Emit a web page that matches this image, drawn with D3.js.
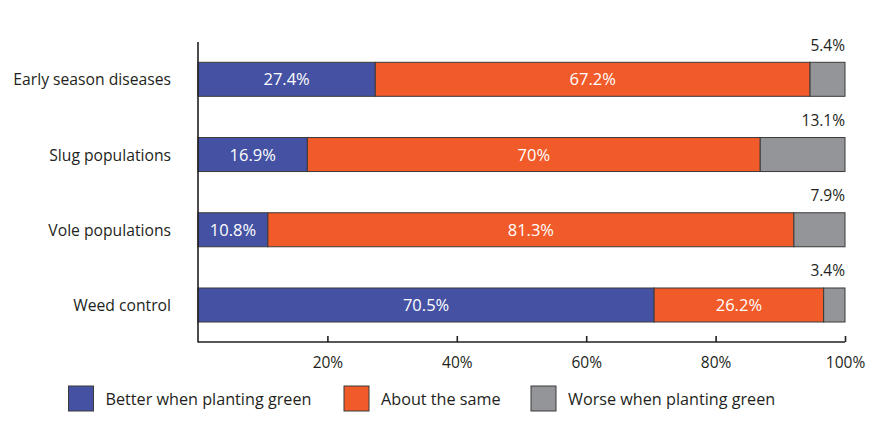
<!DOCTYPE html>
<html>
<head>
<meta charset="utf-8">
<script src="https://cdn.jsdelivr.net/npm/d3@7"></script>
<style>
  body { margin: 0; background: #fff; }
  svg { display: block; font-family: "Open Sans", "Noto Sans", sans-serif; }
</style>
</head>
<body>
<svg id="chart" width="885" height="436"></svg>
<script>
const categories = ["Early season diseases", "Slug populations", "Vole populations", "Weed control"];
const seriesNames = ["Better when planting green", "About the same", "Worse when planting green"];
const better = [27.4, 16.9, 10.8, 70.5];
const same = [67.2, 70, 81.3, 26.2];
const worse = [5.4, 13.1, 7.9, 3.4];
const tickValues = [20, 40, 60, 80, 100];
const colors = ["#4552a4", "#f15a29", "#939598"];

const svg = d3.select("#chart");
const x = d3.scaleLinear().domain([0, 100]).range([198, 845]);
const y = d3.scaleBand().domain(categories).range([62.3, 322]).paddingInner(0.548).paddingOuter(0);

const rows = categories.map((c, i) => ({ cat: c, vals: [better[i], same[i], worse[i]] }));
const stackData = rows.map(r => {
  let acc = 0;
  return r.vals.map((v, k) => { const s = { cat: r.cat, k, v, x0: acc, x1: Math.min(100, acc + v) }; acc += v; return s; });
});

const g = svg.append("g");
stackData.forEach(segs => {
  segs.forEach(s => {
    g.append("rect")
      .attr("x", x(s.x0)).attr("y", y(s.cat))
      .attr("width", x(s.x1) - x(s.x0)).attr("height", y.bandwidth())
      .attr("fill", colors[s.k]).attr("stroke", "#3a3a3a").attr("stroke-width", 1);
    if (s.k < 2) {
      g.append("text")
        .attr("x", (x(s.x0) + x(s.x1)) / 2).attr("y", y(s.cat) + y.bandwidth() / 2 + 6)
        .attr("text-anchor", "middle").attr("fill", "#fff").attr("font-size", 16.5)
        .text(s.v + "%");
    } else {
      g.append("text")
        .attr("x", x(100)).attr("y", y(s.cat) - 11.5)
        .attr("text-anchor", "end").attr("fill", "#231f20").attr("font-size", 15.5)
        .text(s.v + "%");
    }
  });
});

// category labels
svg.append("g").selectAll("text").data(categories).join("text")
  .attr("x", 171).attr("y", d => y(d) + y.bandwidth() / 2 + 6)
  .attr("text-anchor", "end").attr("fill", "#231f20").attr("font-size", 15.7)
  .text(d => d);

// y axis line
svg.append("line").attr("x1", 198).attr("x2", 198).attr("y1", 42).attr("y2", 342.5)
  .attr("stroke", "#231f20").attr("stroke-width", 1.6);

// x axis
const xAxis = d3.axisBottom(x).tickValues(tickValues).tickSize(-6).tickPadding(15)
  .tickFormat(d => d + "%");
const ax = svg.append("g").attr("transform", "translate(0,342)").call(xAxis);
ax.select(".domain").attr("stroke", "#231f20").attr("stroke-width", 1.6).attr("d", `M${x(0)},0H${x(100)}`);
ax.selectAll(".tick line").attr("stroke", "#231f20").attr("stroke-width", 1.6);
ax.selectAll(".tick text").attr("font-size", 15.5).attr("fill", "#231f20")
  .attr("font-family", "\"Open Sans\", sans-serif").attr("dy", "0.71em");

// legend
const legendX = [68.5, 344, 531];
const lg = svg.append("g");
seriesNames.forEach((n, i) => {
  lg.append("rect").attr("x", legendX[i]).attr("y", 386).attr("width", 25).attr("height", 25)
    .attr("fill", colors[i]).attr("stroke", "#3a3a3a").attr("stroke-width", 1);
  lg.append("text").attr("x", legendX[i] + 37).attr("y", 404.5)
    .attr("font-size", 16.2).attr("fill", "#231f20").text(n);
});
</script>
</body>
</html>
